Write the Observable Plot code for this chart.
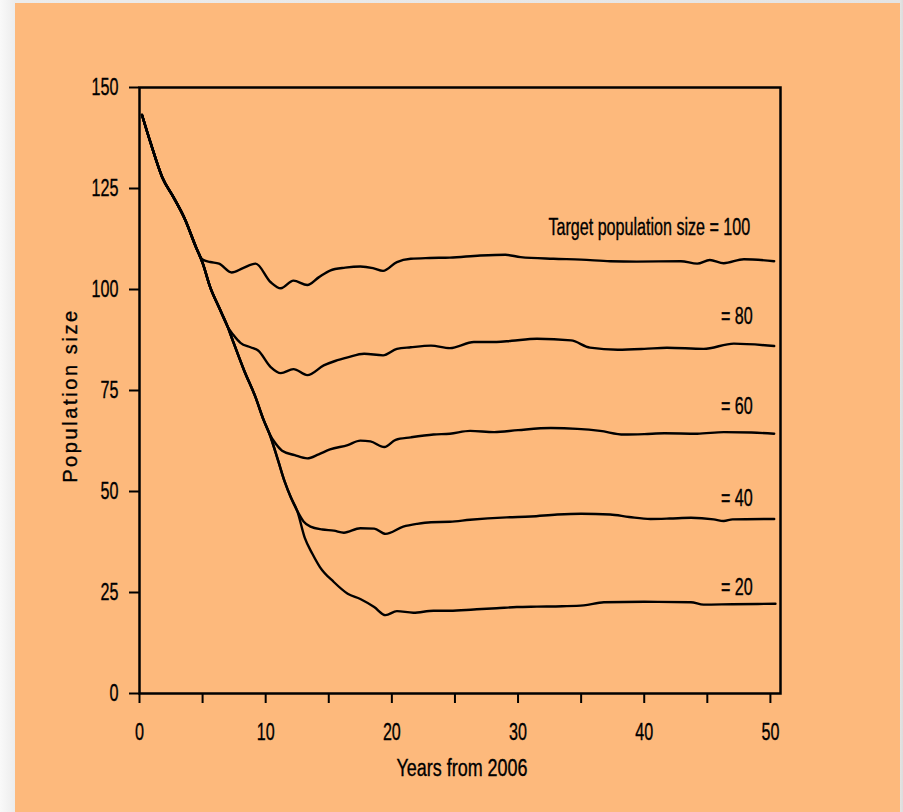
<!DOCTYPE html>
<html>
<head>
<meta charset="utf-8">
<script src="https://cdn.jsdelivr.net/npm/d3@7"></script>
<script src="https://cdn.jsdelivr.net/npm/@observablehq/plot@0.6"></script>
<style>
  html, body { margin: 0; padding: 0; }
  #wrap { position: relative; width: 903px; height: 812px; overflow: hidden;
    background: linear-gradient(to right, #f9f9f9 0px, #ececec 15px, #e4e4e4 900px, #dcdcdc 903px); }
  #panel { position: absolute; left: 15px; top: 3px; width: 885px; height: 809px; background: #fdb97c; }
  #chart { position: absolute; left: 0; top: 0; }
  #chart svg { background: transparent; }
</style>
</head>
<body>
<div id="wrap"><div id="panel"></div><div id="chart"></div></div>
<script>
const yTicks = [0, 25, 50, 75, 100, 125, 150];
const xTicks = [0, 5, 10, 15, 20, 25, 30, 35, 40, 45, 50];
const xLabels = [0, 10, 20, 30, 40, 50];

const targets = [100, 80, 60, 40, 20];

const pop100 = [[0.2,143.2],[0.9,136.1],[1.8,127.8],[2.7,122.8],[3.6,117.4],[4.5,110.3],
  [5.0,107.4],[5.6,106.8],[6.3,106.4],[7.3,104.2],[8.2,105.3],[9.2,106.4],[10.4,101.8],[11.2,100.3],
  [12.2,102.2],[13.3,101.1],[14.2,103.0],[15.1,104.7],[16.3,105.4],[17.5,105.7],[18.5,105.3],[19.3,104.6],
  [20.4,106.8],[21.5,107.6],[23.0,107.8],[24.6,107.9],[27.0,108.4],[29.0,108.6],[30.2,108.0],[32.8,107.6],
  [35.0,107.4],[37.3,107.0],[39.4,106.9],[42.9,107.0],[44.2,106.4],[45.2,107.3],[46.3,106.5],[47.9,107.5],[50.3,107.0]];

const pop80 = [[0.2,143.2],[0.9,136.1],[1.8,127.8],[2.7,122.8],[3.6,117.4],[4.5,110.3],
  [5.0,106.6],[5.6,100.6],[6.3,95.6],[7.0,90.7],
  [7.4,88.9],[8.0,86.8],[8.8,85.7],[9.4,84.9],[10.4,80.8],[11.2,79.3],[12.2,80.3],[13.3,78.8],[14.6,81.2],
  [15.5,82.3],[16.5,83.2],[17.8,84.1],[19.3,83.7],[20.4,85.3],[21.5,85.7],[23.1,86.1],[24.6,85.5],[26.5,87.0],
  [28.3,87.0],[29.5,87.3],[31.5,87.8],[34.2,87.4],[35.7,85.6],[37.9,85.1],[40.0,85.3],[41.8,85.6],[44.7,85.3],
  [47.1,86.6],[50.3,86.0]];

const pop60 = [[0.2,143.2],[0.9,136.1],[1.8,127.8],[2.7,122.8],[3.6,117.4],[4.5,110.3],
  [5.0,106.6],[5.6,100.6],[6.3,95.6],[7.0,90.7],[7.4,87.3],[8.3,79.9],[9.2,73.3],[9.85,67.6],[10.3,64.3],
  [10.8,61.8],[11.3,60.1],[12.3,59.0],[13.3,58.2],[14.2,59.2],[15.1,60.4],[16.5,61.5],[17.5,62.6],[18.3,62.4],
  [19.4,61.0],[20.3,62.8],[21.5,63.4],[23.3,64.1],[24.6,64.3],[26.2,65.0],[28.1,64.7],[30.0,65.2],[32.6,65.7],
  [34.7,65.5],[36.5,65.0],[38.4,64.1],[40.0,64.2],[41.6,64.4],[44.2,64.3],[46.3,64.7],[48.5,64.6],[50.3,64.3]];

const pop40 = [[0.2,143.2],[0.9,136.1],[1.8,127.8],[2.7,122.8],[3.6,117.4],[4.5,110.3],
  [5.0,106.6],[5.6,100.6],[6.3,95.6],[7.0,90.7],[7.4,87.3],[8.3,79.9],[9.2,73.3],[9.85,67.6],[10.3,64.3],
  [11.0,57.5],[11.5,52.5],[12.0,48.5],[12.5,45.2],
  [13.0,42.6],[13.55,41.3],[14.5,40.6],[15.4,40.3],[16.2,39.8],[17.5,40.9],[18.6,40.8],[19.5,39.5],[20.9,41.3],
  [22.0,42.0],[23.1,42.4],[24.6,42.5],[26.2,43.0],[29.1,43.6],[31.0,43.8],[33.1,44.3],[35.0,44.5],[37.3,44.3],
  [38.8,43.7],[40.5,43.2],[42.0,43.3],[43.7,43.5],[45.5,43.1],[46.3,42.7],[47.0,43.1],[50.3,43.2]];

const pop20 = [[0.2,143.2],[0.9,136.1],[1.8,127.8],[2.7,122.8],[3.6,117.4],[4.5,110.3],
  [5.0,106.6],[5.6,100.6],[6.3,95.6],[7.0,90.7],[7.4,87.3],[8.3,79.9],[9.2,73.3],[9.85,67.6],[10.3,64.3],
  [11.0,57.5],[11.5,52.5],[12.0,48.5],[12.5,45.2],
  [13.1,38.5],[13.7,34.6],[14.3,31.3],[15.4,27.6],[16.5,24.7],[17.5,23.4],[18.6,21.4],[19.5,19.4],[20.4,20.4],
  [21.7,20.0],[23.3,20.5],[24.6,20.5],[26.5,20.8],[28.3,21.1],[29.9,21.4],[31.5,21.5],[33.5,21.6],[35.2,21.8],
  [36.8,22.6],[40.0,22.7],[43.7,22.6],[44.7,22.0],[47.0,22.1],[50.4,22.2]];

const labelText = ["Target population size = 100", "= 80", "= 60", "= 40", "= 20"];
const labelX = [48.4, 48.6, 48.6, 48.6, 48.6];
const labelY = [115.3, 93.3, 70.9, 48.2, 26.2];

const seriesPts = [pop100, pop80, pop60, pop40, pop20];
const table = targets.flatMap((t, i) => seriesPts[i].map(([year, size]) => ({target: t, year, size})));
const labels = labelText.map((text, i) => ({text, x: labelX[i], y: labelY[i]}));

const font = "'Liberation Sans', Arial, Helvetica, sans-serif";

const chart = Plot.plot({
  width: 903,
  height: 812,
  marginLeft: 139,
  marginRight: 123,
  marginTop: 87,
  marginBottom: 119,
  x: {domain: [0, 50.8]},
  y: {domain: [0, 150]},
  style: {background: "transparent", fontFamily: font, fontSize: "23px", color: "black", overflow: "visible"},
  marks: [
    Plot.frame({stroke: "black", strokeWidth: 2.5}),
    Plot.axisY({ticks: yTicks, tickSize: 10, tickPadding: 11, strokeWidth: 2, label: null, fontSize: 23}),
    Plot.axisX({ticks: xTicks, tickFormat: d => xLabels.includes(d) ? String(d) : "", tickSize: 10, tickPadding: 20,
      strokeWidth: 2, label: null, fontSize: 23}),
    Plot.line(table, {x: "year", y: "size", z: "target", stroke: "black", strokeWidth: 2.4, curve: "monotone-x"}),
    Plot.text(labels, {x: "x", y: "y", text: "text", textAnchor: "end", fill: "black", fontSize: 23}),
    Plot.text(["Years from 2006"], {frameAnchor: "bottom", text: d => d, textAnchor: "middle", dx: 2, dy: 82,
      fill: "black", fontSize: 23}),
    Plot.text(["Population size"], {frameAnchor: "left", text: d => d, textAnchor: "middle", rotate: -90,
      dx: -69, dy: 5, fill: "black", fontSize: 20})
  ]
});
document.getElementById("chart").appendChild(chart);

// Condense text horizontally to mimic the narrow, heavy typeface of the original figure.
chart.querySelectorAll("text").forEach(t => {
  const len = t.getComputedTextLength();
  if (!len) return;
  t.style.stroke = "black";
  t.style.strokeWidth = "0.35px";
  if (t.textContent === "Population size") {
    t.setAttribute("letter-spacing", "2.6px");
  } else {
    const k = t.textContent === "Years from 2006" ? 0.78 : 0.70;
    t.setAttribute("textLength", (len * k).toFixed(1));
    t.setAttribute("lengthAdjust", "spacingAndGlyphs");
  }
});
</script>
</body>
</html>
